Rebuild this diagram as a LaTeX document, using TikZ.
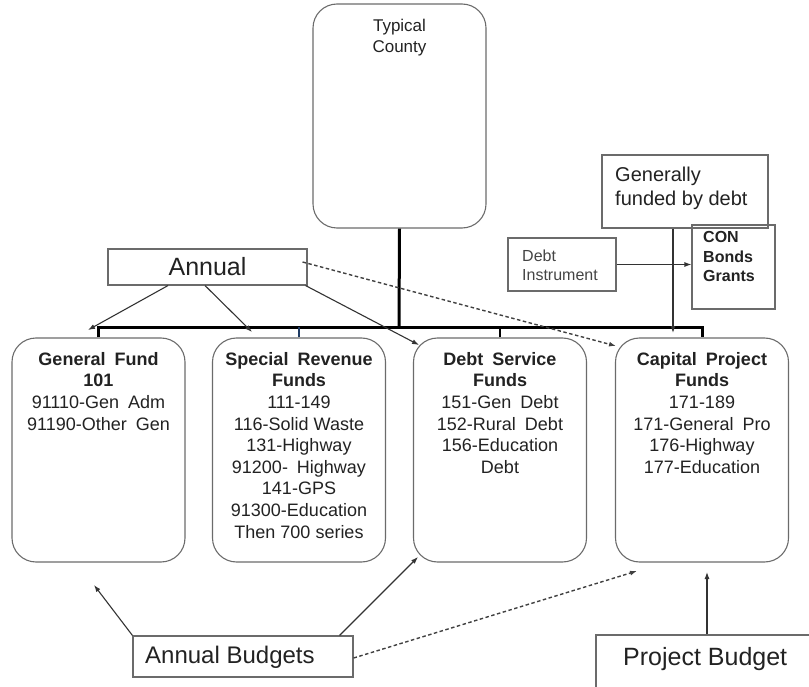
\documentclass[tikz,border=0pt]{standalone}
\usepackage{fontspec}
\setmainfont{Liberation Sans}
\usetikzlibrary{arrows.meta,calc}
\definecolor{boxgray}{HTML}{6B6B6B}
\definecolor{linegray}{HTML}{333333}
\definecolor{txt}{HTML}{222222}
\definecolor{lighttxt}{HTML}{444444}
\definecolor{darkblue}{HTML}{1F3B63}
\begin{document}
\begin{tikzpicture}[x=1pt,y=-1pt,
  box/.style={draw=boxgray, line width=1.1pt, inner sep=0pt},
  rbox/.style={box, rounded corners=24pt, minimum width=173pt, minimum height=224pt},
  ftext/.style={anchor=north, align=center, font=\fontsize{18}{21.6}\selectfont, text=txt, inner sep=0pt},
  ltext/.style={anchor=north west, align=left, text=txt, inner sep=0pt},
  tree/.style={line width=3pt, draw=black},
  arr/.style={draw=linegray, line width=1.1pt, -{Latex[length=7pt,width=5pt]}},
  darr/.style={arr, line width=1.4pt, draw=black!75, dash pattern=on 3.5pt off 2.5pt},
]
\path[use as bounding box] (0,0) rectangle (809,687);
\begin{scope}
\clip (0,0) rectangle (809,687);

% top box
\node[rbox] (county) at (399.5,116) {};
\node[ftext, font=\fontsize{17}{21}\selectfont] (countyt) at (399.5,18.6) {Typical\\County};

% fund boxes
\node[rbox] (gf) at (98.5,450) {};
\node[ftext] (gft) at (98.5,352) {\textbf{General\enspace Fund}\\\textbf{101}\\91110-Gen\enspace Adm\\91190-Other\enspace Gen};
\node[rbox] (srf) at (299,450) {};
\node[ftext] (srft) at (299,352) {\textbf{Special\enspace Revenue}\\\textbf{Funds}\\111-149\\116-Solid Waste\\131-Highway\\91200-\enspace Highway\\141-GPS\\91300-Education\\Then 700 series};
\node[rbox] (dsf) at (500,450) {};
\node[ftext] (dsft) at (500,352) {\textbf{Debt\enspace Service}\\\textbf{Funds}\\151-Gen\enspace Debt\\152-Rural\enspace Debt\\156-Education\\Debt};
\node[rbox] (cpf) at (702,450) {};
\node[ftext] (cpft) at (702,352) {\textbf{Capital\enspace Project}\\\textbf{Funds}\\171-189\\171-General\enspace Pro\\176-Highway\\177-Education};

% annual box
\node[box, minimum width=199pt, minimum height=36pt, font=\fontsize{25}{30}\selectfont, text=txt] (annual) at (207.5,267) {Annual};

% generally funded by debt
\node[box, minimum width=166pt, minimum height=73pt] (gen) at (685,191.5) {};
\node[ltext, font=\fontsize{20}{24}\selectfont] (gent) at (615,166.4) {Generally\\funded by debt};

% debt instrument
\node[box, minimum width=108pt, minimum height=53pt] (di) at (562,264.5) {};
\node[ltext, text=lighttxt, font=\fontsize{16}{19}\selectfont] (dit) at (522,250) {Debt\\Instrument};

% CON bonds grants
\node[box, minimum width=83pt, minimum height=84pt] (con) at (733.5,267) {};
\node[ltext, font=\fontsize{16}{19.5}\selectfont\bfseries] (cont) at (703,231.5) {CON\\Bonds\\Grants};

% bottom boxes
\node[box, minimum width=220pt, minimum height=41pt] (ab) at (243,656.5) {};
\node[anchor=base west, inner sep=0pt, text=txt, font=\fontsize{24}{28}\selectfont] (abt) at (145,663) {Annual Budgets};
\node[box, minimum width=222pt, minimum height=100pt] (pb) at (707,685) {};
\node[anchor=base west, inner sep=0pt, text=txt, font=\fontsize{25}{30}\selectfont] (pbt) at (623,665) {Project Budget};

% tree
\coordinate (bar) at (399,327);
\draw[tree] (county.south) -- (bar);
\draw[tree] (gf.north) |- (bar) -| (cpf.north);
\draw[line width=2pt, draw=darkblue] (srf.north) -- (srf.north |- bar);
\draw[line width=2pt, draw=black] (dsf.north) -- (dsf.north |- bar);

% arrow end points
\coordinate (t1) at (88,330);
\coordinate (t2) at (252,332);
\coordinate (t3) at (419,345);
\coordinate (t4) at (616,346);
\coordinate (t5) at (94,585);
\coordinate (t6) at (418,557);
\coordinate (t7) at (637,571);
\coordinate (t8) at (707,572);
\coordinate (t9) at (673,333);

% arrows from Annual
\draw[arr] ($(annual.south)+(-39.5,0)$) -- (t1);
\draw[arr] ($(annual.south)+(-2.5,0)$) -- (t2);
\draw[arr] ($(annual.south east)+(-2,0)$) -- (t3);
\draw[darr] ($(annual.east)+(-5,-5)$) -- (t4);

% funding arrows
\draw[arr] ($(gen.south)+(-12,0)$) -- (t9);
\draw[arr] (di.east) -- (di.east -| con.west);

% bottom arrows
\draw[arr] (ab.north west) -- (t5);
\draw[arr] ($(ab.north east)+(-14,0)$) -- (t6);
\draw[darr] ($(ab.east)+(0,1.5)$) -- (t7);
\draw[arr] (pb.north) -- (t8);
\end{scope}
\end{tikzpicture}
\end{document}
